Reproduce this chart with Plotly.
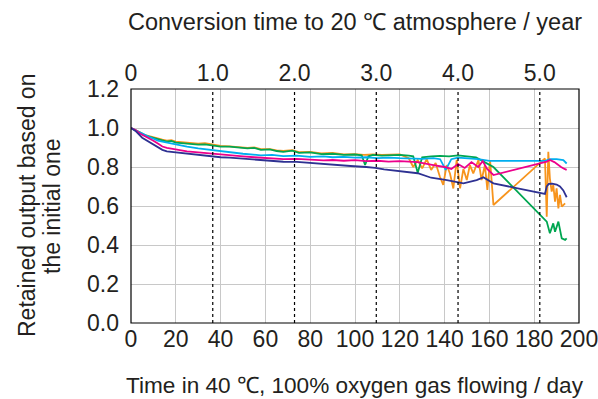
import plotly.graph_objects as go

# ---------------- data ----------------
days_per_year = 36.5
year_ticks = [0, 1, 2, 3, 4, 5]
year_labels = ["0", "1.0", "2.0", "3.0", "4.0", "5.0"]
day_ticks = [0, 20, 40, 60, 80, 100, 120, 140, 160, 180, 200]
y_ticks = [0.0, 0.2, 0.4, 0.6, 0.8, 1.0, 1.2]
y_labels = ["0.0", "0.2", "0.4", "0.6", "0.8", "1.0", "1.2"]

orange_days = [0, 2, 4, 6, 8, 10, 12, 14, 16, 18, 20, 25, 30, 33, 36, 40, 44, 48, 52, 55, 58, 62,
               65, 68, 72, 75, 80, 85, 90, 95, 100, 104, 108, 112, 116, 120, 124, 126, 128, 130,
               132, 134, 136, 137.9, 139.4, 140.9, 142.4, 143.9, 145.4, 146.9, 148.4, 149.9,
               151.3, 152.8, 155.1, 156.5, 158.0, 159.1, 160.3, 161.8, 184.8, 185.6, 186.3,
               187.0, 187.8, 188.5, 189.3, 190.0, 190.8, 191.5, 192.3, 193.0, 193.8]
orange_vals = [1.0, 0.99, 0.978, 0.965, 0.958, 0.95, 0.945, 0.94, 0.935, 0.938, 0.93, 0.925, 0.92,
               0.922, 0.915, 0.908, 0.906, 0.902, 0.898, 0.9, 0.892, 0.892, 0.885, 0.882, 0.886,
               0.876, 0.877, 0.87, 0.872, 0.865, 0.866, 0.862, 0.864, 0.862, 0.862, 0.864, 0.845,
               0.8, 0.836, 0.793, 0.84, 0.785, 0.82, 0.75, 0.708, 0.81, 0.767, 0.69, 0.836, 0.69,
               0.79, 0.733, 0.81, 0.767, 0.836, 0.733, 0.81, 0.682, 0.836, 0.605, 0.844, 0.545,
               0.878, 0.742, 0.674, 0.708, 0.622, 0.691, 0.588, 0.657, 0.597, 0.605, 0.614]

green_days = [0, 2, 4, 6, 8, 10, 12, 14, 16, 18, 20, 25, 30, 33, 36, 40, 44, 48, 52, 55, 58, 62,
              65, 68, 72, 75, 80, 85, 90, 95, 100, 103, 104.5, 106, 108, 112, 116, 120, 124, 126,
              128, 130, 134, 138, 142, 146, 150, 154, 157, 160, 161.8, 185.6, 187.0, 188.5,
              189.3, 190.8, 192.3, 193.8, 194.5]
green_vals = [1.0, 0.99, 0.976, 0.962, 0.955, 0.948, 0.94, 0.936, 0.93, 0.934, 0.925, 0.92, 0.915,
              0.916, 0.912, 0.905, 0.904, 0.9, 0.895, 0.898, 0.888, 0.89, 0.882, 0.878, 0.884,
              0.872, 0.875, 0.866, 0.868, 0.862, 0.864, 0.86, 0.81, 0.855, 0.862, 0.858, 0.86,
              0.862, 0.858, 0.855, 0.77, 0.85, 0.855, 0.857, 0.855, 0.86, 0.855, 0.85, 0.83, 0.81,
              0.8, 0.52, 0.46, 0.511, 0.468, 0.52, 0.434, 0.426, 0.434]

cyan_days = [0, 2, 4, 6, 8, 10, 12, 14, 16, 20, 25, 30, 36, 40, 44, 50, 58, 63, 68, 74, 80, 86,
             90, 95, 100, 105, 110, 115, 120, 125, 130, 135, 138, 140.5, 143, 146, 150, 155, 160,
             185, 187, 190, 193, 194.5]
cyan_vals = [1.0, 0.99, 0.978, 0.966, 0.955, 0.945, 0.935, 0.93, 0.925, 0.915, 0.905, 0.895, 0.887,
             0.88, 0.875, 0.868, 0.86, 0.862, 0.856, 0.858, 0.852, 0.854, 0.85, 0.852, 0.848,
             0.85, 0.845, 0.848, 0.845, 0.843, 0.842, 0.845, 0.84, 0.785, 0.84, 0.848, 0.845,
             0.84, 0.831, 0.831, 0.84, 0.84, 0.835, 0.818]

magenta_days = [0, 2, 4, 6, 8, 10, 12, 14, 16, 20, 25, 30, 36, 40, 44, 50, 55, 58, 63, 68, 74, 80,
                86, 90, 95, 100, 105, 110, 115, 120, 128, 135, 140, 143, 146, 149, 152, 155, 157,
                159, 161.8, 185.6, 187, 189, 190.5, 192, 193.5, 194.5]
magenta_vals = [1.0, 0.99, 0.972, 0.96, 0.95, 0.935, 0.92, 0.905, 0.898, 0.89, 0.88, 0.875, 0.87,
                0.864, 0.86, 0.855, 0.85, 0.848, 0.843, 0.84, 0.842, 0.838, 0.834, 0.836, 0.832,
                0.835, 0.83, 0.832, 0.828, 0.83, 0.825, 0.81, 0.8, 0.79, 0.815, 0.795, 0.825,
                0.8, 0.83, 0.79, 0.759, 0.828, 0.836, 0.825, 0.81, 0.8, 0.79, 0.785]

navy_days = [0, 2, 5, 8, 10, 12, 14, 16, 20, 25, 30, 36, 40, 44, 50, 54, 58, 63, 68, 74, 80, 86,
             90, 94, 98, 105, 109, 113, 120, 124, 128, 134, 141, 148.4, 151.3, 154.3, 157.3,
             159.5, 161.8, 184.8, 185.6, 186.5, 188, 190, 191.5, 193, 194.5]
navy_vals = [1.0, 0.985, 0.95, 0.93, 0.915, 0.9, 0.888, 0.88, 0.875, 0.868, 0.862, 0.856, 0.85,
             0.848, 0.842, 0.838, 0.836, 0.832, 0.827, 0.826, 0.82, 0.814, 0.81, 0.808, 0.805,
             0.8, 0.796, 0.788, 0.78, 0.775, 0.768, 0.745, 0.733, 0.716, 0.724, 0.733, 0.747,
             0.733, 0.716, 0.662, 0.70, 0.713, 0.715, 0.71, 0.70, 0.68, 0.645]

series = [
    ("orange", orange_days, orange_vals, "#F7941D"),
    ("green", green_days, green_vals, "#00A651"),
    ("cyan", cyan_days, cyan_vals, "#00AEEF"),
    ("magenta", magenta_days, magenta_vals, "#EC008C"),
    ("navy", navy_days, navy_vals, "#2E3192"),
]

FONT = "Liberation Sans, Arial, sans-serif"
TXT = "#231f20"

fig = go.Figure()
for name, xd, yd, col in series:
    fig.add_trace(go.Scatter(x=xd, y=yd, mode="lines", name=name,
                             line=dict(color=col, width=1.8), showlegend=False))

# invisible trace for the top (year) axis
fig.add_trace(go.Scatter(x=[0], y=[0], xaxis="x2", mode="markers",
                         marker=dict(opacity=0), showlegend=False, hoverinfo="skip"))

# dotted year lines
for yr in year_ticks[1:]:
    fig.add_shape(type="line", xref="x", yref="paper", x0=yr * days_per_year, x1=yr * days_per_year,
                  y0=0, y1=1, line=dict(color="black", width=1.2, dash="3px,3px"), layer="above")

# frame
fig.add_shape(type="rect", xref="paper", yref="paper", x0=0, x1=1, y0=0, y1=1,
              line=dict(color="black", width=1.2), layer="above")

fig.update_layout(
    width=598, height=399,
    margin=dict(l=131, r=19, t=89, b=76, autoexpand=False),
    paper_bgcolor="white", plot_bgcolor="white",
    font=dict(family=FONT, color=TXT, size=21),
    xaxis=dict(range=[0, 200], tickvals=day_ticks, ticktext=[str(d) for d in day_ticks],
               showgrid=True, gridcolor="#c8c8c8", gridwidth=1, automargin=False,
               showline=False, ticks="", ticklabelstandoff=0, zeroline=False,
               ticklabeloverflow="allow",
               tickfont=dict(size=23, family=FONT, color=TXT)),
    xaxis2=dict(range=[0, 200 / days_per_year], overlaying="x", side="top", automargin=False,
                tickvals=year_ticks, ticktext=year_labels, showgrid=False, showline=False,
                ticks="", ticklabelstandoff=2, zeroline=False, ticklabeloverflow="allow",
                tickfont=dict(size=23, family=FONT, color=TXT)),
    yaxis=dict(range=[0, 1.2], tickvals=y_ticks, ticktext=y_labels, automargin=False,
               showgrid=True, gridcolor="#c8c8c8", gridwidth=1,
               showline=False, ticks="", ticklabelstandoff=11, zeroline=False,
               tickfont=dict(size=23, family=FONT, color=TXT)),
)

PH = 323 - 89
PW = 579 - 131
fig.add_annotation(text="Conversion time to 20 ℃ atmosphere / year", xref="paper", yref="paper",
                   x=0.5, y=(323 - 22) / PH, yanchor="middle", xanchor="center",
                   showarrow=False, font=dict(size=23.5, family=FONT, color=TXT))
fig.add_annotation(text="Time in 40 ℃, 100% oxygen gas flowing / day", xref="paper", yref="paper",
                   x=0.5, y=-(385 - 323) / PH, yanchor="middle", xanchor="center",
                   showarrow=False, font=dict(size=22.6, family=FONT, color=TXT))
fig.add_annotation(text="Retained output based on", xref="paper", yref="paper",
                   x=-(131 - 27) / PW, y=(323 - 206) / PH, xanchor="center", yanchor="middle",
                   textangle=-90, showarrow=False, font=dict(size=23, family=FONT, color=TXT))
fig.add_annotation(text="the initial one", xref="paper", yref="paper",
                   x=-(131 - 52) / PW, y=(323 - 206) / PH, xanchor="center", yanchor="middle",
                   textangle=-90, showarrow=False, font=dict(size=23, family=FONT, color=TXT))

fig.write_html("out.html")
